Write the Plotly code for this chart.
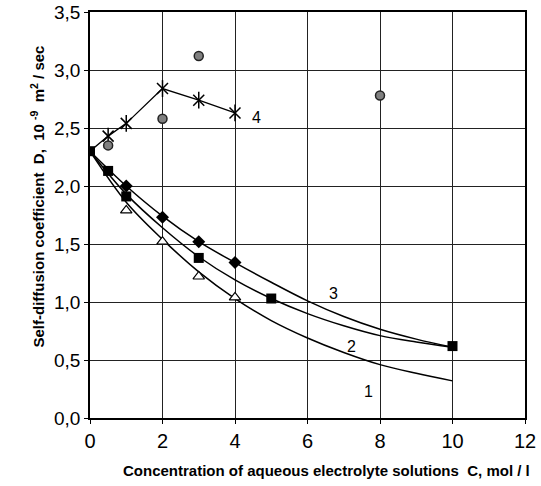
import plotly.graph_objects as go

# Measured points
x4 = [0, 0.5, 1, 2, 3, 4]
y4 = [2.30, 2.43, 2.54, 2.84, 2.74, 2.63]

xc = [0.5, 2, 3, 8]
yc = [2.35, 2.58, 3.12, 2.78]

x3 = [1, 2, 3, 4]
y3 = [2.00, 1.73, 1.52, 1.34]

x2 = [0, 0.5, 1, 3, 5, 10]
y2 = [2.30, 2.13, 1.91, 1.38, 1.03, 0.62]

x1 = [1, 2, 3, 4]
y1 = [1.79, 1.52, 1.22, 1.04]

# Fitted curves
xf = [0, 1, 2, 3, 4, 5, 6, 7, 8, 9, 10]
f1 = [2.30, 1.86, 1.54, 1.26, 1.03, 0.84, 0.69, 0.565, 0.46, 0.385, 0.32]
f2 = [2.30, 1.93, 1.64, 1.39, 1.19, 1.03, 0.90, 0.795, 0.71, 0.655, 0.61]
f3 = [2.30, 2.00, 1.74, 1.52, 1.34, 1.17, 1.01, 0.875, 0.765, 0.68, 0.61]

labels = ["1", "2", "3", "4"]
label_x = [7.68, 7.2, 6.73, 4.6]
label_y = [0.23, 0.62, 1.075, 2.59]

xticks = [0, 2, 4, 6, 8, 10, 12]
yticks = [0, 0.5, 1.0, 1.5, 2.0, 2.5, 3.0, 3.5]
ytext = ["0,0", "0,5", "1,0", "1,5", "2,0", "2,5", "3,0", "3,5"]

FONT = "Liberation Sans, Arial"

fig = go.Figure()
for f in (f1, f2, f3):
    fig.add_trace(go.Scatter(x=xf, y=f, mode="lines",
                             line=dict(color="black", width=1.5, shape="spline", smoothing=1.0),
                             hoverinfo="skip"))

fig.add_trace(go.Scatter(x=x4, y=y4, mode="lines", line=dict(color="black", width=1.3)))
fig.add_trace(go.Scatter(x=x4[1:], y=y4[1:], mode="markers",
                         marker=dict(symbol="x-thin-open", size=11, color="black",
                                     line=dict(color="black", width=1.5))))
fig.add_trace(go.Scatter(x=x4[1:], y=y4[1:], mode="markers",
                         marker=dict(symbol="line-ns-open", size=12, color="black",
                                     line=dict(color="black", width=1.5))))

fig.add_trace(go.Scatter(x=xc, y=yc, mode="markers",
                         marker=dict(symbol="circle", size=9, color="#808080",
                                     line=dict(color="#222", width=1.5))))
fig.add_trace(go.Scatter(x=x3, y=y3, mode="markers",
                         marker=dict(symbol="diamond", size=10, color="black",
                                     line=dict(color="black", width=0))))
fig.add_trace(go.Scatter(x=x1, y=y1, mode="markers",
                         marker=dict(symbol="triangle-up", size=10, color="white",
                                     line=dict(color="black", width=1.2))))
fig.add_trace(go.Scatter(x=x2, y=y2, mode="markers",
                         marker=dict(symbol="square", size=10, color="black",
                                     line=dict(color="black", width=0))))

for t, lx, ly in zip(labels, label_x, label_y):
    fig.add_annotation(x=lx, y=ly, text=t, showarrow=False,
                       font=dict(family=FONT, size=16, color="black"))

fig.add_annotation(xref="paper", yref="paper", x=-0.12, y=0.545, xanchor="center", yanchor="middle",
                   text="<b>Self-diffusion coefficient  D,  10 <sup>-9</sup>  m<sup>2</sup> / sec</b>",
                   textangle=-90, showarrow=False,
                   font=dict(family=FONT, size=15, color="black"))
fig.add_annotation(xref="paper", yref="paper", x=0.543, y=-0.13, xanchor="center", yanchor="middle",
                   text="<b>Concentration of aqueous electrolyte solutions  C, mol / l</b>",
                   showarrow=False, font=dict(family=FONT, size=15, color="black"))

fig.update_layout(
    width=541, height=486,
    margin=dict(l=90, r=16, t=12, b=68),
    paper_bgcolor="white", plot_bgcolor="white",
    showlegend=False,
    font=dict(family=FONT, color="black"),
)
fig.update_xaxes(range=[0, 12], tickvals=xticks, ticktext=[str(v) for v in xticks],
                 showgrid=True, gridcolor="#222", gridwidth=1,
                 showline=True, linecolor="black", linewidth=1.5, mirror=True,
                 ticks="outside", ticklen=4, tickcolor="black", zeroline=False,
                 tickfont=dict(size=20), automargin=False)
fig.update_yaxes(range=[0, 3.5], tickvals=yticks, ticktext=ytext,
                 showgrid=True, gridcolor="#222", gridwidth=1,
                 showline=True, linecolor="black", linewidth=1.5, mirror=True,
                 ticks="outside", ticklen=4, tickcolor="black", zeroline=False,
                 tickfont=dict(size=19), automargin=False)

fig.write_html("out.html", config={"displayModeBar": False},
               post_script="document.body.style.margin='0';")
